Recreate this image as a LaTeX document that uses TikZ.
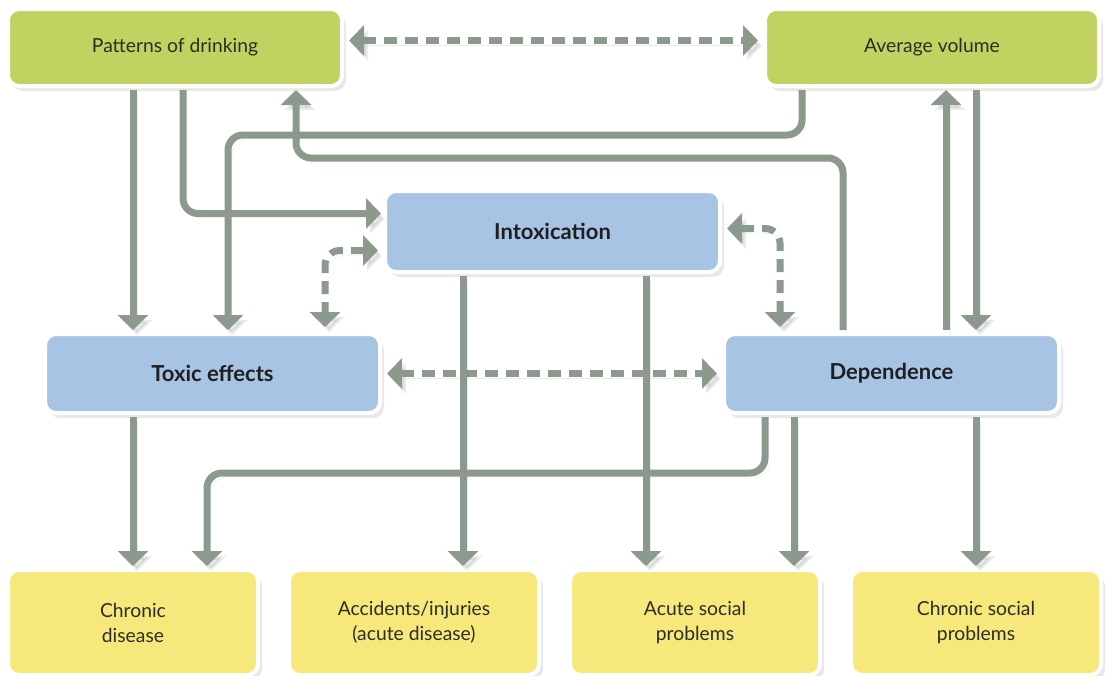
\documentclass[tikz,border=0pt]{standalone}
\usepackage{fontspec}
\setmainfont{Lato}
\usetikzlibrary{positioning,arrows.meta,shadows}
\definecolor{boxgreen}{RGB}{194,210,96}
\definecolor{boxblue}{RGB}{167,196,228}
\definecolor{boxyellow}{RGB}{246,232,122}
\definecolor{linkgray}{RGB}{140,154,142}
\definecolor{textgray}{RGB}{45,45,40}
\begin{document}
\begin{tikzpicture}[x=1pt, y=-1pt, node distance=31pt,
	box/.style={rectangle,rounded corners=11pt,draw=white,line width=4pt,outer sep=0pt,
		text=textgray,align=center,font=\fontsize{19.3}{25}\selectfont,
		drop shadow={shadow xshift=4pt,shadow yshift=-5pt,opacity=.18}},
	top node/.style={box,fill=boxgreen,minimum width=334pt,minimum height=77pt},
	mid node/.style={box,fill=boxblue,minimum width=335pt,minimum height=79pt,
		text=black!88,font=\fontsize{22}{25}\selectfont\bfseries},
	end node/.style={box,fill=boxyellow,minimum width=250pt,minimum height=105pt},
	link/.style={line width=7pt,draw=linkgray,rounded corners=15pt,
		shorten <=4pt,shorten >=4pt,-{Triangle[width=30pt,length=15pt]},
		preaction={draw=black,opacity=.08,transform canvas={xshift=4pt,yshift=-5pt}}},
	dash link/.style={link,dash pattern=on 13pt off 8pt,shorten <=7pt,shorten >=7pt,
		{Triangle[width=30pt,length=15pt]}-{Triangle[width=30pt,length=15pt]}}]
	\useasboundingbox (0,0) rectangle (1108,675);
	
	\node[top node] (1) at (175,47.5) {Patterns of drinking};
	\node[top node] (2) at (932,47.5) {Average volume};
	\node[mid node,minimum height=81pt] (3) at (552.5,231.5) {Intoxication};
	\node[mid node] (4) at (212.5,373.5) {Toxic effects};
	\node[mid node] (5) at (891.5,373.5) {Dependence};
	\node[end node] (6) at (133,622.5) {Chronic\\disease};
	\node[end node] (7) [right=of 6] {Accidents/injuries\\(acute disease)};
	\node[end node] (8) [right=of 7] {Acute social\\problems};
	\node[end node] (9) [right=of 8] {Chronic social\\problems};
	
	% two-way links
	\draw[dash link] ([yshift=7pt]1.east) -- ([yshift=7pt]2.west);
	\draw[dash link] ([yshift=-19pt]3.west) -| (325,0 |- 4.north);
	\draw[dash link] ([yshift=3pt]3.east) -| (780,0 |- 5.north);
	\draw[dash link] (4.east) -- (5.west);
	
	% one-way links
	\draw[link] (1.south -| 6.north) -- (4.north -| 6.north);
	\draw[link] (183,0 |- 1.south) |- ([yshift=18pt]3.west);
	\draw[link] (802,0 |- 2.south) -- (802,135) -| (228,0 |- 4.north);
	\draw[link] (843,0 |- 5.north) -- (843,158) -| (296,0 |- 1.south);
	\draw[link] (946,0 |- 5.north) -- (946,0 |- 2.south);
	\draw[link] (2.south -| 9.north) -- (5.north -| 9.north);
	\draw[link] (463,0 |- 3.south) -- (463,0 |- 7.north);
	\draw[link] (646,0 |- 3.south) -- (646,0 |- 8.north);
	\draw[link] (4.south -| 6.north) -- (6.north);
	\draw[link] (765,0 |- 5.south) -- (765,473) -| (207,0 |- 6.north);
	\draw[link] (794,0 |- 5.south) -- (794,0 |- 8.north);
	\draw[link] (5.south -| 9.north) -- (9.north);
\end{tikzpicture}
\end{document}
